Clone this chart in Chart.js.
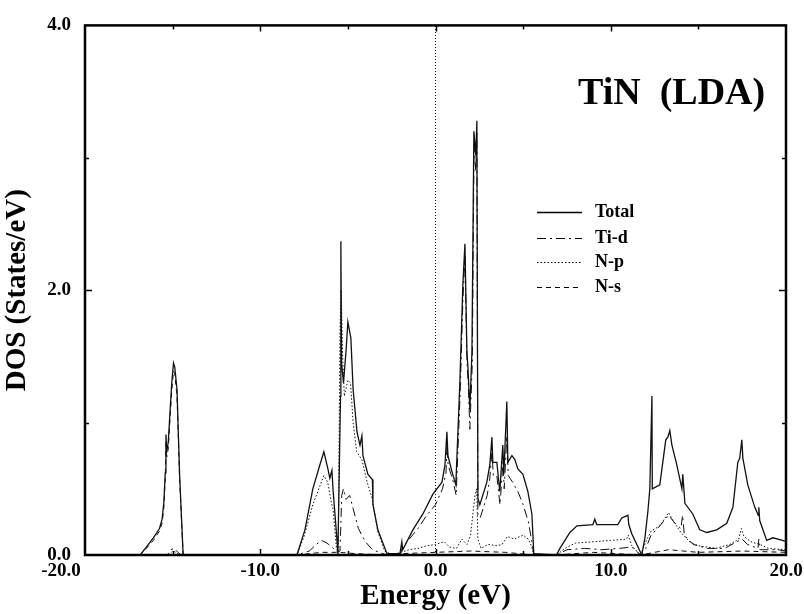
<!DOCTYPE html>
<html>
<head>
<meta charset="utf-8">
<script src="https://cdn.jsdelivr.net/npm/chart.js@4.4.1/dist/chart.umd.min.js"></script>
<style>
  html, body { margin: 0; padding: 0; background: #fff; }
  #wrap { width: 804px; height: 614px; }
</style>
</head>
<body>
<div id="wrap"><canvas id="c" width="804" height="614"></canvas></div>
<script>
// ---- Data (Energy in eV, DOS in States/eV) ----
const xTicks = [-20, -10, 0, 10, 20];
const yTicks = [0, 2, 4];
const seriesNames = ["Total", "Ti-d", "N-p", "N-s"];

const totalE = [-20, -17.0, -16.85, -16.5, -16.1, -15.75, -15.6, -15.5, -15.42, -15.38, -15.34, -15.25, -15.15, -15.05, -14.95, -14.88, -14.75, -14.6, -14.4,
  -7.91, -7.45, -7.0, -6.6, -6.37, -6.14, -6.03, -5.91, -5.85, -5.62, -5.57, -5.42, -5.40, -5.36, -5.25, -5.1, -5.0, -4.83, -4.7, -4.48, -4.31, -4.2, -4.14, -3.86, -3.6, -3.57, -3.29, -2.77,
  -2.03, -1.92, -1.87, -1.29, -0.72, -0.15, 0.37, 0.54, 0.65, 0.71, 0.94, 1.16, 1.39, 1.56, 1.68, 1.79, 1.85, 1.96, 2.08, 2.19, 2.3, 2.36, 2.42, 2.53, 2.93, 3.1, 3.22, 3.27, 3.5, 3.67, 3.84, 3.9, 4.07, 4.13, 4.36, 4.53, 4.7, 4.99, 5.27, 5.5, 5.61,
  6.9, 7.1, 7.67, 8.07, 8.98, 9.09, 9.2, 10.4, 10.63, 10.98, 11.03, 11.2, 11.77,
  11.95, 12.12, 12.23, 12.35, 12.37, 12.8, 12.92, 13.14, 13.26, 13.37, 13.49, 13.77, 14.06, 14.11, 14.23, 14.68, 15.08, 15.48, 16.05, 16.62, 16.97, 17.25, 17.36, 17.48, 17.54, 17.82, 18.22, 18.42, 18.45, 18.5, 18.9, 19.25, 19.8, 20];
const totalDOS = [0, 0, 0.0, 0.06, 0.13, 0.2, 0.27, 0.4, 0.62, 0.91, 0.78, 0.85, 1.08, 1.3, 1.45, 1.42, 1.25, 0.6, 0.0,
  0.0, 0.19, 0.5, 0.68, 0.78, 0.65, 0.58, 0.64, 0.5, 0.11, 0.01, 1.2, 2.37, 1.45, 1.3, 1.55, 1.76, 1.64, 1.25, 0.93, 0.83, 0.9, 0.75, 0.61, 0.57, 0.38, 0.19, 0.01,
  0.01, 0.10, 0.04, 0.19, 0.31, 0.46, 0.55, 0.68, 0.93, 0.75, 0.63, 0.53, 1.3, 2.04, 2.35, 1.54, 1.42, 1.1, 1.54, 3.2, 3.02, 3.28, 0.43, 0.38, 0.55, 0.68, 0.89, 0.70, 0.70, 0.48, 0.83, 0.61, 1.16, 0.70, 0.75, 0.72, 0.65, 0.61, 0.48, 0.31, 0.01,
  0.0, 0.05, 0.17, 0.22, 0.23, 0.27, 0.23, 0.23, 0.28, 0.30, 0.23, 0.16, 0.0,
  0.13, 0.33, 0.5, 1.2, 0.5, 0.53, 0.65, 0.87, 0.89, 0.94, 0.83, 0.68, 0.5, 0.61, 0.39, 0.31, 0.19, 0.17, 0.19, 0.24, 0.36, 0.70, 0.73, 0.87, 0.73, 0.53, 0.36, 0.30, 0.36, 0.26, 0.11, 0.13, 0.11, 0.10];

const tidE = [-20, -15.3, -15.1, -14.9, -14.7, -14.5,
  -7.9, -7.2, -6.8, -6.5, -6.2, -5.9, -5.6, -5.45, -5.35, -5.25, -5.1, -4.9, -4.7, -4.4, -4.0, -3.6, -3.0, -2.7,
  -2.0, -1.9, -1.5, -1.0, -0.5, 0, 0.4, 0.6, 0.66, 0.72, 1.0, 1.18, 1.4, 1.57, 1.68, 1.8, 1.87, 1.96, 2.1, 2.2, 2.3, 2.36, 2.42, 2.55, 2.95, 3.1, 3.22, 3.3, 3.5, 3.68, 3.85, 3.92, 4.07, 4.15, 4.4, 4.7, 5.0, 5.3, 5.5, 5.6, 5.8,
  6.9, 7.5, 8.5, 9.5, 10.5, 11.2, 11.7, 12.0, 12.3, 12.8, 13.3, 13.6, 14.0, 14.1, 14.2, 14.7, 15.5, 16.5, 17.2, 17.5, 17.8, 18.4, 18.45, 18.5, 19.5, 20];
const tidDOS = [0, 0, 0.04, 0.05, 0.02, 0,
  0, 0.03, 0.08, 0.11, 0.09, 0.06, 0.02, 0.03, 0.45, 0.5, 0.42, 0.45, 0.35, 0.2, 0.1, 0.04, 0.01, 0,
  0, 0.06, 0.12, 0.2, 0.3, 0.38, 0.5, 0.62, 0.85, 0.68, 0.56, 0.45, 1.2, 1.95, 2.25, 1.45, 1.3, 0.95, 1.45, 3.1, 2.9, 3.2, 0.3, 0.28, 0.45, 0.58, 0.78, 0.6, 0.6, 0.38, 0.7, 0.5, 0.9, 0.6, 0.55, 0.48, 0.38, 0.25, 0.1, 0.01, 0,
  0, 0.04, 0.05, 0.04, 0.05, 0.06, 0, 0.05, 0.15, 0.22, 0.3, 0.25, 0.2, 0.3, 0.15, 0.08, 0.05, 0.05, 0.1, 0.12, 0.08, 0.05, 0.12, 0.04, 0.04, 0.03];

const npE = [-20, -15.2, -15.0, -14.8, -14.6,
  -7.9, -7.5, -7.0, -6.6, -6.37, -6.15, -5.95, -5.85, -5.65, -5.55, -5.45, -5.38, -5.3, -5.2, -5.0, -4.85, -4.7, -4.5, -4.2, -3.9, -3.6, -3.3, -2.9, -2.6,
  -2.5, -2.0, -1.5, -1.0, -0.5, 0, 0.5, 0.8, 1.2, 1.5, 1.8, 2.0, 2.25, 2.35, 2.42, 2.6, 3.0, 3.5, 3.8, 4.1, 4.5, 5.0, 5.3, 5.5, 5.6,
  6.9, 7.5, 8.0, 9.0, 10.0, 10.9, 11.0, 11.2, 11.7, 12.0, 12.3, 12.8, 13.3, 13.6, 14.0, 14.5, 15.0, 16.0, 16.8, 17.3, 17.45, 17.6, 18.0, 18.5, 19.0, 20];
const npDOS = [0, 0, 0.03, 0.02, 0,
  0, 0.14, 0.38, 0.52, 0.6, 0.55, 0.4, 0.35, 0.05, 0.01, 1.7, 2.0, 1.5, 1.2, 1.32, 1.3, 1.0, 0.78, 0.72, 0.55, 0.42, 0.18, 0.03, 0.01,
  0, 0.02, 0.04, 0.05, 0.07, 0.08, 0.1, 0.06, 0.05, 0.12, 0.08, 0.15, 0.45, 0.5, 0.12, 0.05, 0.08, 0.07, 0.08, 0.14, 0.12, 0.15, 0.12, 0.06, 0,
  0, 0.06, 0.09, 0.1, 0.11, 0.12, 0.15, 0.07, 0, 0.1, 0.18, 0.22, 0.32, 0.25, 0.17, 0.1, 0.07, 0.05, 0.08, 0.12, 0.2, 0.14, 0.1, 0.08, 0.05, 0.04];

const nsE = [-20, -16.85, -16.5, -16.1, -15.75, -15.6, -15.5, -15.42, -15.38, -15.34, -15.25, -15.15, -15.05, -14.95, -14.88, -14.75, -14.6, -14.4,
  -7.9, -6.5, -5.5, -4.5, -3.0, -2.0, 0, 2.0, 4.0, 5.6, 6.9, 9.0, 11.7, 13.3, 15.0, 17.5, 20];
const nsDOS = [0, 0, 0.05, 0.11, 0.18, 0.24, 0.36, 0.58, 0.86, 0.74, 0.8, 1.02, 1.24, 1.39, 1.37, 1.2, 0.57, 0,
  0, 0.02, 0.02, 0.01, 0, 0.01, 0.02, 0.03, 0.02, 0, 0, 0.02, 0, 0.04, 0.02, 0.03, 0.02];

const fermiE = [0, 0];
const fermiDOS = [0, 4];

// ---- build datasets ----
const pts = (xs, ys) => xs.map((x, i) => ({ x: x, y: ys[i] }));
const ink = '#111';

const datasets = [
  { label: seriesNames[1], data: pts(tidE, tidDOS), borderColor: ink, borderWidth: 1, borderDash: [9, 4, 2, 4] },
  { label: seriesNames[2], data: pts(npE, npDOS), borderColor: ink, borderWidth: 1, borderDash: [1.5, 2] },
  { label: seriesNames[3], data: pts(nsE, nsDOS), borderColor: ink, borderWidth: 1, borderDash: [5, 4] },
  { label: seriesNames[0], data: pts(totalE, totalDOS), borderColor: ink, borderWidth: 1.3 },
  { label: 'Fermi', data: pts(fermiE, fermiDOS), borderColor: ink, borderWidth: 1, borderDash: [1, 2] }
].map(d => Object.assign({ showLine: true, pointRadius: 0, fill: false, tension: 0 }, d));

const serif = '"Liberation Serif", "Times New Roman", serif';

// Frame, inward ticks, x tick labels, title and legend
const decor = {
  id: 'decor',
  afterDatasetsDraw(chart) {
    const { ctx, chartArea: a, scales } = chart;
    const xs = scales.x, ys = scales.y;
    ctx.save();
    ctx.strokeStyle = '#000';
    ctx.lineWidth = 1.5;
    // y ticks (inward) left and right
    [1, 2, 3].forEach(v => {
      const py = Math.round(ys.getPixelForValue(v)) + 0.5;
      const len = (v % 2 === 0) ? 7 : 4;
      ctx.beginPath();
      ctx.moveTo(a.left, py); ctx.lineTo(a.left + len, py);
      ctx.moveTo(a.right, py); ctx.lineTo(a.right - len, py);
      ctx.stroke();
    });
    // x ticks (inward) bottom and top
    [-15, -10, -5, 0, 5, 10, 15].forEach(v => {
      const px = Math.round(xs.getPixelForValue(v)) + 0.5;
      const len = (v % 10 === 0) ? 6 : 4;
      ctx.beginPath();
      ctx.moveTo(px, a.bottom); ctx.lineTo(px, a.bottom - len);
      ctx.moveTo(px, a.top); ctx.lineTo(px, a.top + len);
      ctx.stroke();
    });
    // frame
    ctx.lineWidth = 2.5;
    ctx.strokeRect(a.left, a.top, a.right - a.left, a.bottom - a.top);

    // x tick labels
    ctx.fillStyle = '#000';
    ctx.font = 'bold 19px ' + serif;
    ctx.textBaseline = 'top';
    ctx.textAlign = 'center';
    xTicks.forEach((v, i) => {
      let px = xs.getPixelForValue(v);
      if (i === 0) px -= 24;
      ctx.fillText(v.toFixed(1), px, a.bottom + 7);
    });

    // title
    ctx.font = 'bold 38px ' + serif;
    ctx.textAlign = 'left';
    ctx.textBaseline = 'alphabetic';
    ctx.fillText('TiN  (LDA)', 578, 104);

    // legend
    const styles = [[], [9, 4, 2, 4], [1.5, 2], [5, 4]];
    const rowY = [212, 238, 262, 287];
    ctx.font = 'bold 18px ' + serif;
    ctx.textBaseline = 'middle';
    seriesNames.forEach((n, i) => {
      ctx.lineWidth = i === 0 ? 1.3 : 1;
      ctx.setLineDash(styles[i]);
      ctx.beginPath();
      ctx.moveTo(537, rowY[i] + 0.5); ctx.lineTo(582, rowY[i] + 0.5);
      ctx.stroke();
      ctx.setLineDash([]);
      ctx.fillText(n, 595, rowY[i]);
    });
    ctx.restore();
  }
};

new Chart(document.getElementById('c'), {
  type: 'scatter',
  data: { datasets },
  plugins: [decor],
  options: {
    responsive: false,
    animation: false,
    events: [],
    layout: { padding: { left: 0, right: 18, top: 15, bottom: 0 } },
    plugins: { legend: { display: false }, tooltip: { enabled: false }, title: { display: false } },
    scales: {
      x: {
        type: 'linear', min: -20, max: 20,
        afterFit(s) { s.height = 59; },
        afterBuildTicks(s) { s.ticks = xTicks.map(v => ({ value: v })); },
        grid: { display: false, drawTicks: false },
        border: { display: false },
        ticks: { display: false },
        title: { display: true, text: 'Energy (eV)', color: '#000', font: { family: serif, size: 29, weight: 'bold' }, padding: { top: 28, bottom: 0 } }
      },
      y: {
        type: 'linear', min: 0, max: 4,
        afterFit(s) { s.width = 85; },
        afterBuildTicks(s) { s.ticks = yTicks.map(v => ({ value: v })); },
        grid: { display: false, drawTicks: false },
        border: { display: false },
        ticks: { color: '#000', padding: 14, font: { family: serif, size: 19, weight: 'bold' }, callback: v => Number(v).toFixed(1) },
        title: { display: true, text: 'DOS (States/eV)', color: '#000', font: { family: serif, size: 29, weight: 'bold' }, padding: { top: 0, bottom: 8 } }
      }
    }
  }
});
</script>
</body>
</html>
